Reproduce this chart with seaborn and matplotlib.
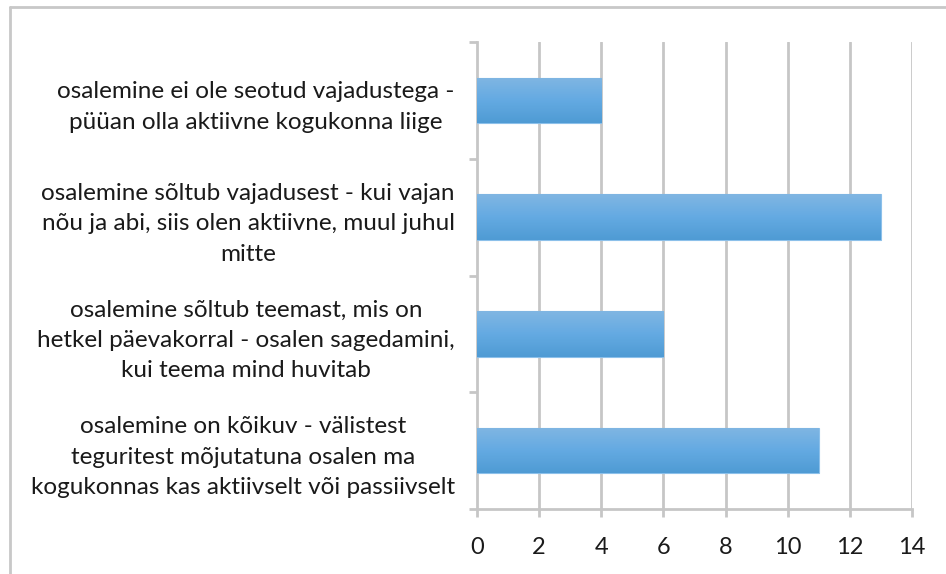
import numpy as np
import pandas as pd
import matplotlib
matplotlib.use('Agg')
import matplotlib.pyplot as plt
from matplotlib.lines import Line2D
import seaborn as sns

# Data (top to bottom)
categories = [
    'osalemine ei ole seotud vajadustega -\npüüan olla aktiivne kogukonna liige',
    'osalemine sõltub vajadusest - kui vajan\nnõu ja abi, siis olen aktiivne, muul juhul\nmitte',
    'osalemine sõltub teemast, mis on\nhetkel päevakorral - osalen sagedamini,\nkui teema mind huvitab',
    'osalemine on kõikuv - välistest\nteguritest mõjutatuna osalen ma\nkogukonnas kas aktiivselt või passiivselt',
]
values = [4, 13, 6, 11]
x_ticks = [0, 2, 4, 6, 8, 10, 12, 14]

df = pd.DataFrame({'label': categories, 'count': values})

sns.set_style('white')
plt.rcParams['font.family'] = ['Lato', 'DejaVu Sans']

fig = plt.figure(figsize=(9.46, 5.74), dpi=100)
ax = fig.add_axes([477 / 946, 1 - 509 / 574, (912 - 477) / 946, (509 - 42) / 574])

sns.barplot(data=df, x='count', y='label', orient='h', color='#62a8e0',
            width=0.39, ax=ax, edgecolor='#8cc0ea', linewidth=0.8, zorder=3)

# vertical gradient on each bar
grad = np.linspace(0, 1, 64).reshape(-1, 1)
cmap = matplotlib.colors.LinearSegmentedColormap.from_list('g', ['#80b6e3', '#64aae2', '#4f9bd4'])
for p in ax.patches:
    x0, y0 = p.get_x(), p.get_y()
    w, h = p.get_width(), p.get_height()
    im = ax.imshow(grad, cmap=cmap, aspect='auto', extent=[x0, x0 + w, y0 + h, y0],
                   origin='upper', zorder=3.5)
    im.set_clip_path(p)

ax.set_xlim(0, 14)
ax.set_ylim(3.5, -0.5)
ax.set_xticks(x_ticks)
ax.set_xticklabels([str(t) for t in x_ticks])
ax.set_xlabel('')
ax.set_ylabel('')

# gridlines
for t in x_ticks[1:]:
    ax.axvline(t, color='#c6c6c6', lw=2, zorder=1)

for s in ['top', 'right']:
    ax.spines[s].set_visible(False)
for s in ['left', 'bottom']:
    ax.spines[s].set_color('#c6c6c6')
    ax.spines[s].set_linewidth(2)

ax.tick_params(axis='y', which='major', length=0, pad=16, labelsize=17.5, labelcolor='#1a1a1a')
for lbl in ax.get_yticklabels():
    lbl.set_multialignment('center')
    lbl.set_linespacing(1.55)
ax.set_yticks([-0.5, 0.5, 1.5, 2.5, 3.5], minor=True)
ax.tick_params(axis='y', which='minor', length=6, width=2, color='#c6c6c6', left=True)
ax.tick_params(axis='x', length=6, width=2, color='#c6c6c6', pad=14, labelsize=17,
               labelcolor='#1a1a1a', bottom=True)

# outer frame
fig.add_artist(Line2D([10 / 946, 10 / 946], [0, 1 - 7 / 574], color='#c8c8c8', lw=2,
                      transform=fig.transFigure))
fig.add_artist(Line2D([10 / 946, 1], [1 - 7 / 574, 1 - 7 / 574], color='#c8c8c8', lw=2,
                      transform=fig.transFigure))

fig.savefig('out.png', dpi=100)
